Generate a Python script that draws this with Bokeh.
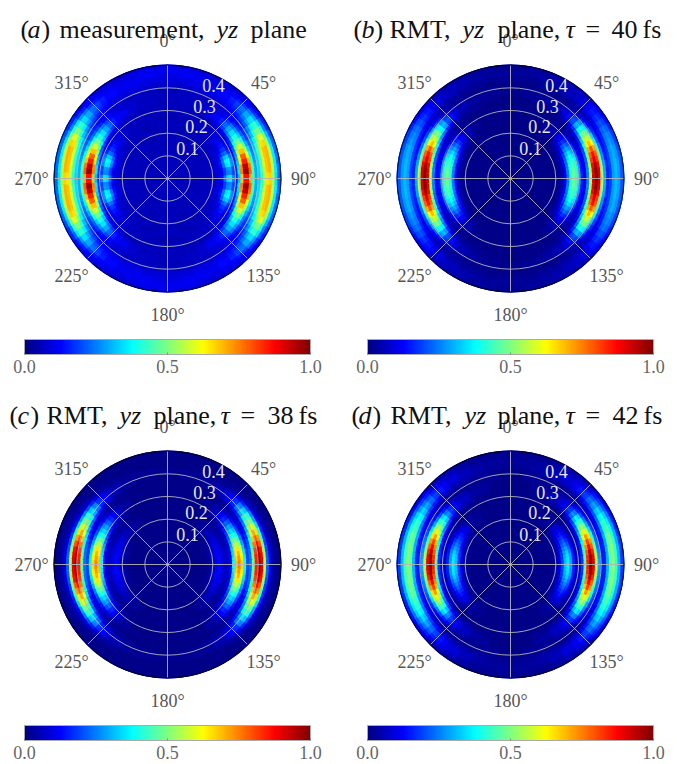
from bokeh.plotting import figure
from bokeh.layouts import column, row
from bokeh.models import ColorBar, FixedTicker, LinearColorMapper, ColumnDataSource, PrintfTickFormatter
from bokeh.core.properties import value
from bokeh.embed import file_html
from bokeh.resources import INLINE
import math

# ---- chart data (values x100) ----
# one quadrant per panel: rows = angle band from the horizontal axis, columns = radius bins
ANGLE_EDGES = [0, 3.75, 7.5, 11.25, 15, 18.75, 22.5, 26.25, 30, 33.75, 37.5, 41.25, 45, 48.75, 52.5,
               60, 67.5, 75, 82.5, 90]
R_START = 0.10
R_STEP = 0.0125
BACKGROUND = {"a": 6, "b": 1, "c": 1, "d": 1}

PANEL_A = [
 [6,6,5,6,6,6,6,7,7,8,11,14,24,34,36,26,16,32,67,86,86,70,44,30,33,42,55,65,67,54,35,23],
 [5,6,6,6,6,6,7,7,8,8,9,11,18,25,26,19,17,36,75,97,97,78,46,30,34,44,58,68,70,56,36,23],
 [6,6,6,5,6,6,6,7,7,8,9,12,19,26,28,20,17,35,73,94,94,76,45,30,34,44,58,68,70,56,36,23],
 [6,5,6,6,6,6,6,7,7,8,10,14,24,34,36,26,16,32,65,84,84,68,42,28,34,44,58,68,70,56,36,23],
 [6,6,6,6,5,6,6,7,7,8,11,15,25,36,38,27,15,29,60,78,78,62,38,26,34,44,58,68,70,56,36,23],
 [6,6,5,6,6,6,6,6,7,7,9,13,22,31,33,24,14,26,53,68,68,55,34,24,32,42,55,65,67,53,34,22],
 [6,6,6,6,6,6,6,6,7,7,8,10,16,22,24,17,12,22,45,58,58,47,30,22,29,37,49,58,60,48,31,20],
 [5,6,6,5,6,6,6,6,7,7,8,9,12,17,18,14,11,19,38,49,49,39,25,19,25,32,42,49,50,40,26,17],
 [6,6,6,6,6,6,6,6,7,7,7,8,11,14,15,12,10,16,32,41,41,33,22,17,21,27,36,42,43,35,23,16],
 [6,5,6,6,6,5,6,6,6,7,7,8,9,12,13,10,9,14,27,35,35,28,19,15,17,22,29,34,35,28,18,13],
 [6,6,6,6,5,6,6,6,6,6,7,7,9,10,10,9,8,12,23,29,29,24,16,13,15,19,24,29,29,24,16,12],
 [5,6,6,6,6,6,6,6,6,6,7,7,8,9,9,8,8,10,18,23,23,19,13,12,13,16,20,23,24,19,13,11],
 [6,6,6,6,6,5,6,6,6,6,6,6,7,7,8,7,7,9,13,16,16,13,11,10,11,13,16,18,19,15,11,10],
 [6,6,5,6,6,6,6,6,6,6,6,6,7,7,7,7,7,8,11,13,13,11,9,9,10,12,14,15,16,13,11,9],
 [6,6,6,5,6,6,6,6,5,6,6,6,6,7,6,7,6,7,9,11,11,9,8,8,9,10,12,13,13,12,10,9],
 [6,5,6,6,6,6,5,5,6,6,6,5,6,6,6,6,6,6,7,8,8,8,7,7,8,9,10,11,11,10,9,8],
 [6,6,6,6,6,5,5,6,6,6,5,5,6,6,6,6,5,6,6,7,7,7,7,7,8,9,10,11,11,11,10,9],
 [6,6,5,6,6,6,6,6,5,5,6,6,6,5,6,6,6,6,6,6,7,7,6,7,7,8,9,10,11,12,11,10],
 [6,6,6,6,5,6,6,5,5,6,6,6,6,5,5,6,6,6,6,6,6,6,6,6,7,8,9,9,10,11,11,10],
]
PANEL_B = [
 [1]*9 + [2,5,12,25,41,48,43,29,14,12,26,56,91,100,91,56,30,16,19,28,31,28,21],
 [1]*9 + [2,5,12,25,41,48,43,29,14,12,26,55,90,100,90,55,30,16,19,28,31,28,21],
 [1]*9 + [2,5,12,25,41,47,43,29,14,12,25,53,87,96,87,53,29,16,19,28,31,28,21],
 [1]*9 + [2,5,12,24,39,46,41,28,13,11,23,50,82,91,82,50,27,15,19,27,30,27,21],
 [1]*9 + [2,5,11,23,37,43,39,26,13,11,22,48,78,86,78,48,26,14,18,27,30,27,20],
 [1]*9 + [2,4,10,21,34,40,35,24,12,9,20,44,71,79,71,44,24,13,17,25,28,25,19],
 [1]*9 + [2,4,9,18,30,35,31,21,10,8,18,38,62,69,62,38,21,12,16,24,26,24,18],
 [1]*10 + [3,8,15,25,29,26,18,9,7,15,33,53,59,53,33,19,10,15,22,24,22,16],
 [1]*10 + [3,6,13,20,24,21,14,7,6,13,28,46,51,46,28,16,9,13,19,21,19,14],
 [1]*10 + [2,5,10,15,18,16,11,6,5,11,23,37,41,37,23,13,8,11,16,18,16,12],
 [1]*10 + [2,4,7,11,13,12,8,4,4,8,17,28,31,28,17,10,6,9,14,15,14,10],
 [1]*10 + [2,3,5,8,9,9,6,3,3,6,12,19,21,19,12,7,5,8,11,12,11,9],
 [1]*10 + [1,2,4,6,7,6,4,3,2,4,8,13,14,13,8,5,4,6,9,10,9,7],
 [1]*10 + [1,2,3,4,5,4,3,2,2,3,5,8,9,8,5,3,3,5,7,8,7,6],
 [1]*13 + [2,2,2,1,1,1,2,3,5,6,5,3,2,3,4,6,6,6,5],
 [1]*19 + [2,2,3,4,3,2,1,2,3,4,5,5,4],
 [1]*20 + [2,2,3,2,2,1,2,3,3,4,3,3],
 [1]*21 + [2,2,2,2,1,1,2,2,3,3,3],
 [1]*22 + [2,2,1,1,2,2,3,3,2,2],
]
PANEL_C = [
 [1]*6 + [2,4,7,11,13,10,6,7,13,38,68,75,66,38,20,24,48,85,98,90,55,22,9,4,2,1],
 [1]*6 + [2,4,7,11,13,10,6,7,13,37,66,73,64,37,19,24,48,84,97,89,54,22,9,4,2,1],
 [1]*6 + [2,4,7,11,13,10,6,7,12,35,63,70,61,35,18,23,46,81,93,86,52,21,9,4,2,1],
 [1]*6 + [2,4,7,11,12,10,6,6,11,33,59,65,57,33,17,22,42,75,86,79,49,19,8,4,2,1],
 [1]*6 + [2,4,6,10,12,9,6,6,10,29,52,57,50,29,15,20,39,68,79,72,44,18,7,3,2,1],
 [1]*6 + [2,4,6,10,11,9,5,5,9,25,45,49,43,25,13,17,35,61,71,65,40,16,7,3,2,1],
 [1]*6 + [2,3,6,9,10,8,5,4,8,21,38,42,37,21,11,14,30,53,61,56,34,14,6,3,2,1],
 [1]*6 + [2,3,5,8,9,7,5,4,7,18,32,35,31,18,9,12,25,45,51,47,29,12,5,3,2,1],
 [1]*6 + [1,3,5,7,8,6,4,3,6,15,26,29,26,15,8,10,22,38,44,40,25,10,5,2,1,1],
 [1]*6 + [1,2,4,6,7,5,3,3,5,12,21,23,20,12,6,8,17,30,35,32,20,8,4,2,1,1],
 [1]*6 + [1,2,3,5,6,5,3,2,4,9,16,17,15,9,5,6,14,24,27,25,16,7,3,2,1,1],
 [1]*6 + [1,2,3,4,5,4,2,2,3,7,11,12,11,7,3,5,9,16,18,17,11,5,2,1,1,1],
 [1]*6 + [1,2,2,3,4,3,2,1,2,4,7,8,7,4,2,3,7,11,13,12,7,3,2,1,1,1],
 [1]*6 + [1,1,2,3,3,2,2,1,2,3,4,5,4,3,2,2,5,8,9,8,5,3,2,1,1,1],
 [1]*9 + [2,2,2,1,1,1,2,3,3,3,2,1,2,3,5,6,5,3,2,1,1,1,1],
 [1]*22 + [2,3,3,3,2,1,1,1,1,1],
 [1]*23 + [2,2,2,2,1,1,1,1,1],
 [1]*23 + [2,2,2,1,1,1,1,1,1],
 [1]*24 + [2,2,1,1,1,1,1,1],
]
PANEL_D = [
 [1]*7 + [2,4,9,19,32,37,29,16,7,8,18,48,85,100,90,55,29,16,16,31,47,51,43,31,18],
 [1]*7 + [2,4,9,19,31,36,28,16,7,8,18,47,83,99,88,54,28,16,16,31,47,51,43,31,18],
 [1]*7 + [2,4,9,18,30,35,28,15,7,7,17,45,79,94,84,51,27,15,16,31,47,51,43,31,18],
 [1]*7 + [2,4,8,17,28,33,26,14,6,7,16,42,74,88,78,48,25,15,16,30,46,50,42,30,18],
 [1]*7 + [2,3,7,15,25,29,23,13,6,6,15,39,68,81,72,44,24,14,15,30,45,49,41,30,17],
 [1]*7 + [2,3,6,13,22,25,20,11,5,6,13,35,61,73,65,40,21,13,15,28,42,46,39,28,16],
 [1]*7 + [2,3,6,11,19,22,17,10,5,5,12,31,54,64,57,35,19,12,14,26,40,43,36,26,15],
 [1]*7 + [1,2,5,10,16,18,14,8,4,4,10,26,46,54,48,30,17,10,12,24,36,39,33,24,14],
 [1]*7 + [1,2,4,8,13,15,12,7,3,4,9,22,39,46,41,25,14,9,11,21,31,34,28,21,12],
 [1]*7 + [1,2,3,6,10,12,9,5,3,3,7,18,31,37,33,20,11,7,9,18,26,29,24,18,10],
 [1]*7 + [1,2,3,5,8,9,7,4,2,2,5,13,23,27,24,15,9,5,8,15,22,24,20,15,9],
 [1]*7 + [1,1,2,4,6,6,5,3,2,2,4,9,16,19,17,11,6,4,6,12,18,19,16,12,7],
 [1]*7 + [1,1,2,3,4,5,4,2,2,2,3,7,11,13,12,8,5,3,5,9,14,15,13,9,6],
 [1]*7 + [1,1,1,2,3,3,3,2,1,1,2,5,8,9,8,5,3,3,4,8,11,12,10,8,5],
 [1]*10 + [2,2,2,2,1,1,1,2,4,6,7,6,4,2,2,3,6,8,9,8,6,4],
 [1]*18 + [2,3,4,3,2,2,2,3,5,6,6,5,4,3],
 [1]*18 + [2,2,3,3,2,2,2,3,4,4,4,3,2,2],
 [1]*22 + [2,2,2,2,3,3,3,3,2,2],
 [1]*25 + [2,2,3,3,3,2,2],
]
PANELS = {"a": PANEL_A, "b": PANEL_B, "c": PANEL_C, "d": PANEL_D}

R_RINGS = [0.1, 0.2, 0.3, 0.4]
R_LABELS = ["0.1", "0.2", "0.3", "0.4"]
SPOKES = [0, 45, 90, 135]
ANGLE_LABELS = ["0°", "45°", "90°", "135°", "180°", "225°", "270°", "315°"]
CBAR_TICKS = [0.0, 0.5, 1.0]

# ---- layout (page pixels) ----
S = 226.67                 # pixels per radial unit
R_MAX = 0.5
FONT = "Liberation Serif"
ANGLE_POS = [(0, 138), (96, 96), (136, 0), (96, -97), (0, -136), (-96, -97), (-136, 0), (-96, 96)]
RLAB_POS = [(20, 30), (29, 52), (37, 72), (46, 93)]
# title pieces: text, italic?, page x
TITLES = {
 "a": [("(", 0, 20), ("a", 1, 27), (")", 0, 41), ("measurement,", 0, 59), ("yz", 1, 216), ("plane", 0, 250)],
 "b": [("(", 0, 353), ("b", 1, 361), (")", 0, 374), ("RMT,", 0, 389), ("yz", 1, 462), ("plane,", 0, 497),
       ("τ", 1, 565), ("=", 0, 585), ("40", 0, 611), ("fs", 0, 642)],
 "c": [("(", 0, 9), ("c", 1, 17), (")", 0, 30), ("RMT,", 0, 46), ("yz", 1, 119), ("plane,", 0, 153),
       ("τ", 1, 220), ("=", 0, 240), ("38", 0, 267), ("fs", 0, 298)],
 "d": [("(", 0, 351), ("d", 1, 358), (")", 0, 372), ("RMT,", 0, 390), ("yz", 1, 464), ("plane,", 0, 497),
       ("τ", 1, 565), ("=", 0, 585), ("42", 0, 612), ("fs", 0, 643)],
}


def jet(t):
    def c(x):
        return int(round(255 * max(0.0, min(1.0, x))))
    return "#%02x%02x%02x" % (c(min(4*t-1.5, -4*t+4.5)), c(min(4*t-0.5, -4*t+3.5)), c(min(4*t+0.5, -4*t+2.5)))


JET = [jet(i / 255) for i in range(256)]
mapper = LinearColorMapper(palette=JET, low=0, high=1)


def panel(key, page_left, width, height, page_cx, page_top, page_cy, bar_y):
    x0 = (page_left - page_cx) / S
    x1 = (page_left + width - page_cx) / S
    y1 = (page_cy - page_top) / S
    y0 = (page_cy - page_top - height) / S
    p = figure(width=width, height=height, x_range=(x0, x1), y_range=(y0, y1),
               output_backend="svg", toolbar_location=None,
               x_axis_location=None, y_axis_location=None,
               min_border=0, outline_line_color=None, tools="")
    p.grid.visible = False

    # cells: a full backing disc first, then the table's cells over it
    inner, outer, start, end, val = [0.0], [R_MAX], [0.0], [2*math.pi], [BACKGROUND[key] / 100]
    for j, rowv in enumerate(PANELS[key]):
        a0 = math.radians(ANGLE_EDGES[j]); a1 = math.radians(ANGLE_EDGES[j+1])
        for k, v in enumerate(rowv):
            ri = R_START + k * R_STEP
            ro = ri + R_STEP
            for s, e in ((a0, a1), (math.pi-a1, math.pi-a0), (math.pi+a0, math.pi+a1), (2*math.pi-a1, 2*math.pi-a0)):
                inner.append(ri); outer.append(ro); start.append(s); end.append(e); val.append(v / 100)
    src = ColumnDataSource(dict(ri=inner, ro=outer, s=start, e=end, v=val))
    cmap = {"field": "v", "transform": mapper}
    p.annular_wedge(x=0, y=0, inner_radius="ri", outer_radius="ro", start_angle="s", end_angle="e",
                    source=src, fill_color=cmap, line_color=cmap, line_width=1.2)

    # grid
    for r in R_RINGS:
        p.circle(x=0, y=0, radius=r, fill_alpha=0, line_color="#b4b4b4", line_width=0.9)
    for a in SPOKES:
        t = math.radians(90 - a)
        p.line([-R_MAX*math.cos(t), R_MAX*math.cos(t)], [-R_MAX*math.sin(t), R_MAX*math.sin(t)],
               line_color="#b4b4b4", line_width=0.9)
    p.circle(x=0, y=0, radius=R_MAX, fill_alpha=0, line_color="#000000", line_width=0.8)

    # labels
    p.text([q[0]/S for q in ANGLE_POS], [q[1]/S for q in ANGLE_POS], text=ANGLE_LABELS,
           text_font=value(FONT), text_font_size="18px", text_color="#555555",
           text_align="center", text_baseline="middle")
    p.text([q[0]/S for q in RLAB_POS], [q[1]/S for q in RLAB_POS], text=R_LABELS,
           text_font=value(FONT), text_font_size="18px", text_color="#e6e6e6",
           text_align="center", text_baseline="middle")
    for txt, ital, px in TITLES[key]:
        p.text([(px - page_cx) / S], [149.0 / S], text=[txt],
               text_font=value(FONT), text_font_size="26px", text_color="#111111",
               text_font_style="italic" if ital else "normal",
               text_align="left", text_baseline="alphabetic")

    bar = ColorBar(color_mapper=mapper, ticker=FixedTicker(ticks=CBAR_TICKS), orientation="horizontal",
                   formatter=PrintfTickFormatter(format="%.1f"),
                   width=286, height=15, location=(24, bar_y), padding=0, margin=0,
                   background_fill_alpha=0, border_line_color=None,
                   bar_line_color="#aaaaaa", bar_line_width=1,
                   major_tick_line_color="#888888", major_tick_in=2, major_tick_out=0,
                   minor_tick_line_color=None,
                   label_standoff=5,
                   major_label_text_font=FONT, major_label_text_font_size="18px",
                   major_label_text_color="#666666")
    p.add_layout(bar)
    return p


pa = panel("a", 0, 343, 386, 167, 0, 178, 11)
pb = panel("b", 343, 333, 386, 510, 0, 178, 11)
pc = panel("c", 0, 343, 377, 167, 386, 564, 2)
pd = panel("d", 343, 333, 377, 510, 386, 564, 2)

layout = column(row(pa, pb), row(pc, pd))
open("out.html", "w").write(file_html(layout, INLINE))
